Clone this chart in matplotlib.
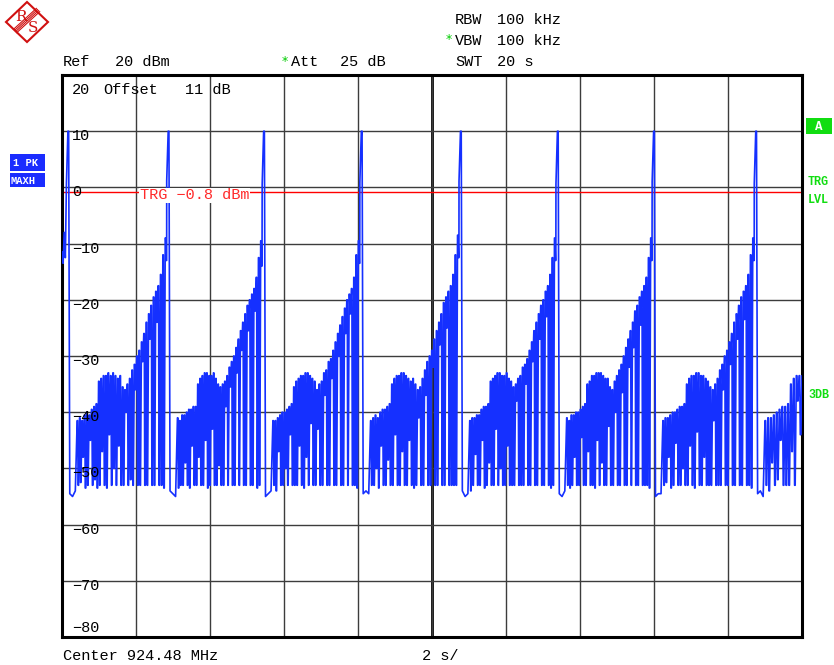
import numpy as np
import matplotlib.pyplot as plt
from matplotlib.patches import Rectangle, Polygon

plt.rcParams['font.family'] = ['Liberation Mono', 'DejaVu Sans Mono']

# =========================================================================
# TRACE DATA (zero span, 20 s sweep, levels in dBm)
# =========================================================================
lead_times = [0.0, 0.03, 0.06, 0.09]
lead_levels = [-11.5, -13.5, -8.0, -12.5]

peak_times = [0.16, 2.87, 5.45, 8.09, 10.77, 13.39, 15.99, 18.75]
peak_shoulder = [0.8, 1.2, 0.5, 0.9, 1.1, 0.6, 1.0, 0.7]
peak_level = 10.0
floor_levels = [[-54.5, -55.0, -54.0], [-54.0, -54.5, -55.0], [-55.0, -54.5, -54.0],
                [-54.5, -54.0, -54.5], [-54.0, -55.0, -54.5], [-54.5, -55.0, -54.0],
                [-55.0, -54.5, -54.5], [-54.5, -54.0, -55.0]]

cycle_tops = [
    [-41.5, -41.0, -41.5, -40.5, -40.0, -40.5, -39.5, -39.0, -38.5,
     -34.5, -34.0, -33.5, -33.5, -33.0, -33.5, -33.0, -33.5, -34.0, -33.5,
     -35.5, -36.0, -35.0, -34.0,
     -32.5, -31.5, -30.0, -29.0, -27.5, -26.0, -24.0, -22.5, -21.0, -19.5, -18.5, -17.5,
     -15.5, -12.0, -9.0],
    [-41.0, -41.5, -40.5, -40.5, -40.0, -39.5, -39.5, -39.0, -39.0,
     -35.0, -34.0, -33.5, -33.0, -33.0, -33.5, -33.5, -33.0, -34.0, -35.0,
     -35.5, -35.0, -34.5, -33.5,
     -32.0, -31.0, -30.0, -28.5, -27.0, -25.5, -24.0, -22.5, -21.0, -20.0, -19.0, -18.0,
     -16.0, -12.5, -9.5],
    [-41.5, -41.5, -41.0, -40.5, -40.0, -40.0, -39.5, -39.0, -38.5,
     -35.5, -34.5, -34.0, -33.5, -33.5, -33.0, -33.0, -33.5, -34.0, -34.5,
     -36.0, -35.0, -34.5, -33.0,
     -32.5, -31.0, -30.5, -29.0, -27.5, -26.0, -24.5, -23.0, -21.5, -20.0, -19.0, -18.0,
     -16.0, -12.0, -9.5],
    [-41.5, -41.0, -40.5, -41.0, -40.0, -39.5, -39.5, -39.0, -38.5,
     -35.0, -34.0, -33.5, -33.5, -33.0, -33.0, -33.5, -34.0, -34.5, -34.0,
     -35.0, -36.0, -35.5, -34.0,
     -32.5, -31.0, -30.0, -29.0, -27.0, -25.5, -24.0, -22.5, -20.5, -19.5, -18.5, -17.5,
     -15.5, -12.0, -8.5],
    [-41.5, -41.0, -41.0, -40.5, -40.5, -39.5, -39.0, -39.0, -38.5,
     -34.5, -34.0, -33.5, -33.0, -33.0, -33.5, -33.5, -33.0, -34.0, -34.5,
     -35.5, -35.0, -34.0, -33.5,
     -32.0, -31.5, -30.5, -29.0, -27.5, -25.5, -24.0, -22.5, -21.0, -20.0, -18.5, -17.5,
     -15.5, -12.5, -9.0],
    [-41.0, -41.5, -40.5, -40.5, -40.0, -40.0, -39.5, -39.0, -38.5,
     -35.0, -34.5, -33.5, -33.5, -33.0, -33.0, -33.0, -33.5, -34.0, -34.0,
     -35.5, -36.0, -34.5, -33.5,
     -32.5, -31.5, -30.0, -28.5, -27.0, -25.5, -24.0, -22.0, -21.0, -19.5, -18.5, -17.5,
     -16.0, -12.5, -9.0],
    [-41.5, -41.0, -41.0, -40.5, -40.0, -40.0, -39.5, -39.0, -39.0, -38.5,
     -35.0, -34.0, -33.5, -33.5, -33.0, -33.0, -33.5, -33.5, -34.0, -34.5,
     -35.5, -36.0, -35.0, -34.0,
     -32.5, -31.5, -30.0, -29.0, -27.5, -26.0, -24.0, -22.5, -21.0, -19.5, -18.5, -17.5,
     -15.5, -12.0, -9.0],
    # tail after the last burst (sweep ends at 20 s)
    [-41.5, -41.0, -41.0, -40.5, -40.0, -39.5, -39.0, -39.0, -38.5,
     -35.0, -34.0, -33.5, -33.5, -33.5],
]

cycle_bottoms = [
    [-53.0, -52.5, -48.0, -53.5, -53.0, -45.0, -53.0, -52.0, -53.5,
     -53.0, -47.0, -53.0, -53.5, -44.0, -53.0, -50.0, -53.0, -46.0, -53.0,
     -53.0, -40.0, -53.0, -52.0,
     -53.0, -36.0, -53.0, -53.0, -31.0, -53.0, -53.0, -27.0, -53.0, -53.0, -24.0, -53.0,
     -53.0, -53.5, -13.0],
    [-53.5, -53.0, -53.0, -49.0, -53.0, -53.5, -46.0, -53.0, -53.0,
     -48.0, -53.0, -53.0, -45.0, -53.5, -53.0, -43.0, -53.0, -53.0, -49.5,
     -53.0, -53.0, -39.0, -53.0,
     -35.5, -53.0, -53.0, -33.0, -53.0, -29.0, -53.0, -53.0, -25.5, -53.0, -53.0, -22.0,
     -53.5, -53.0, -14.0],
    [-53.0, -54.0, -47.0, -53.0, -53.0, -50.0, -53.0, -44.0, -53.0,
     -53.0, -53.0, -46.0, -53.0, -53.5, -48.0, -53.0, -42.0, -53.0, -53.0,
     -43.0, -53.0, -53.0, -37.0,
     -53.0, -53.0, -34.0, -53.0, -53.0, -30.0, -53.0, -53.0, -26.0, -53.0, -22.5, -53.0,
     -53.0, -53.5, -13.5],
    [-53.0, -53.0, -50.0, -53.5, -46.0, -53.0, -53.0, -48.5, -53.0,
     -53.0, -44.0, -53.0, -53.0, -47.0, -53.0, -53.0, -45.0, -53.0, -53.5,
     -53.0, -41.0, -53.0, -53.0,
     -37.0, -53.0, -53.0, -32.0, -53.0, -53.0, -28.0, -53.0, -53.0, -25.0, -53.0, -53.0,
     -53.0, -53.0, -12.5],
    [-54.0, -53.0, -47.5, -53.0, -53.0, -45.0, -53.5, -53.0, -49.0,
     -53.0, -53.0, -43.0, -53.0, -50.0, -53.0, -53.0, -46.0, -53.0, -53.0,
     -53.0, -38.0, -53.0, -53.0,
     -53.0, -35.0, -53.0, -53.0, -31.0, -53.0, -53.0, -27.0, -53.0, -53.0, -23.0, -53.0,
     -53.5, -53.0, -13.0],
    [-53.0, -53.5, -53.0, -48.0, -53.0, -53.0, -44.5, -53.0, -53.0,
     -47.0, -53.0, -53.0, -53.5, -45.0, -53.0, -49.0, -53.0, -53.0, -42.5,
     -53.0, -53.0, -40.0, -53.0,
     -53.0, -36.5, -53.0, -53.0, -32.0, -53.0, -28.5, -53.0, -53.0, -24.5, -53.0, -53.0,
     -53.0, -53.5, -13.0],
    [-53.0, -52.5, -48.0, -53.5, -53.0, -45.5, -53.0, -53.0, -50.0, -53.0,
     -53.0, -46.0, -53.0, -53.5, -43.5, -53.0, -53.0, -48.0, -53.0, -53.0,
     -53.0, -41.5, -53.0, -53.0,
     -53.0, -36.0, -53.0, -53.0, -31.5, -53.0, -53.0, -27.0, -53.0, -53.0, -23.5, -53.0,
     -53.0, -53.5, -13.0],
    [-53.0, -54.0, -49.0, -53.0, -52.0, -45.0, -53.0, -53.0, -53.0,
     -47.0, -53.0, -38.0, -44.0, -33.5],
]

trigger_level = -0.8
sweep_time = 20.0
y_ticks = [10, 0, -10, -20, -30, -40, -50, -60, -70, -80]

# =========================================================================
# BUILD THE TRACE (each tooth: short flat top, drop, short flat bottom)
# =========================================================================
t_trace = list(lead_times)
p_trace = list(lead_levels)
for k, tp in enumerate(peak_times):
    t_trace += [tp - 0.04, tp, tp + 0.02]
    p_trace += [peak_shoulder[k], peak_level, peak_level]
    fl = floor_levels[k]
    t_trace += list(np.linspace(tp + 0.05, tp + 0.2, len(fl)))
    p_trace += fl
    tops, bots = cycle_tops[k], cycle_bottoms[k]
    t_end = peak_times[k + 1] - 0.08 if k + 1 < len(peak_times) else sweep_time
    tt = np.linspace(tp + 0.25, t_end, len(tops))
    dt = tt[1] - tt[0]
    for ti, a, b in zip(tt, tops, bots):
        t_trace += [ti, ti + 0.2 * dt, ti + 0.4 * dt, ti + 0.6 * dt]
        p_trace += [a, a, b, b]

# =========================================================================
# FIGURE
# =========================================================================
W, H = 834, 665
fig = plt.figure(figsize=(W / 100, H / 100), dpi=100)
fig.patch.set_facecolor('white')

ax = fig.add_axes([62 / W, 1 - 637 / H, (802 - 62) / W, (637 - 75) / H])
ax.set_xlim(0, sweep_time)
ax.set_ylim(-80, 20)
ax.set_xticks(np.arange(0, 21, 2))
ax.set_yticks(np.arange(-80, 21, 10))
ax.tick_params(length=0, labelleft=False, labelbottom=False)
ax.grid(True, color='#3c3c3c', linewidth=1.0)
ax.axvline(10, color='black', linewidth=2.0, zorder=1)
for s in ax.spines.values():
    s.set_linewidth(2.2)

ax.plot(t_trace, p_trace, color='#1530ff', linewidth=1.2, zorder=3)
ax.axhline(trigger_level, color='#ff0000', linewidth=1.0, zorder=2)
ax.text(2.1, trigger_level - 0.6, 'TRG \u22120.8 dBm', color='#ff2a2a', fontsize=11,
        va='center', ha='left', zorder=4,
        bbox=dict(facecolor='white', edgecolor='none', pad=0.5))

for v in y_ticks:
    lbl = str(v).replace('-', '\u2212')
    if v == -80:
        ax.text(0.27, v + 1.6, lbl, fontsize=11, va='center', ha='left', zorder=4)
    else:
        ax.text(0.27, v - 0.9, lbl, fontsize=11, va='center', ha='left', zorder=4)

# overlay in pixel coordinates for annotations
ov = fig.add_axes([0, 0, 1, 1], zorder=5)
ov.set_xlim(0, W)
ov.set_ylim(H, 0)
ov.axis('off')
ov.patch.set_alpha(0)

fs = 11
ov.text(63, 62, 'Ref', fontsize=fs, va='center')
ov.text(115, 62, '20 dBm', fontsize=fs, va='center')
ov.text(285, 61, '*', fontsize=9, va='center', ha='center', color='#00cc00', family='DejaVu Sans')
ov.text(291, 62, 'Att', fontsize=fs, va='center')
ov.text(340, 62, '25 dB', fontsize=fs, va='center')
ov.text(455, 20, 'RBW', fontsize=fs, va='center')
ov.text(497, 20, '100 kHz', fontsize=fs, va='center')
ov.text(449, 40, '*', fontsize=9, va='center', ha='center', color='#00cc00', family='DejaVu Sans')
ov.text(455, 41, 'VBW', fontsize=fs, va='center')
ov.text(497, 41, '100 kHz', fontsize=fs, va='center')
ov.text(455, 62, 'SWT', fontsize=fs, va='center')
ov.text(497, 62, '20 s', fontsize=fs, va='center')

ov.text(72, 90, '20', fontsize=fs, va='center')
ov.text(103, 90, 'Offset', fontsize=fs, va='center')
ov.text(185, 90, '11 dB', fontsize=fs, va='center')

ov.text(63, 656, 'Center 924.48 MHz', fontsize=fs, va='center')
ov.text(422, 656, '2 s/', fontsize=fs, va='center')

# trace info boxes on the left
ov.add_patch(Rectangle((10, 154), 35, 17, facecolor='#1a2cff', edgecolor='none'))
ov.add_patch(Rectangle((10, 173), 35, 14, facecolor='#1a2cff', edgecolor='none'))
ov.text(13, 163, '1 PK', fontsize=7.5, color='white', va='center', fontweight='bold')
ov.text(11, 181, 'MAXH', fontsize=7.5, color='white', va='center', fontweight='bold')

# right side markers
green = '#11dd11'
ov.add_patch(Rectangle((806, 118), 26, 16, facecolor=green, edgecolor='none'))
ov.text(819, 127, 'A', fontsize=9, color='white', va='center', ha='center', fontweight='bold')
ov.text(808, 182, 'TRG', fontsize=8.5, color=green, va='center', fontweight='bold')
ov.text(808, 200, 'LVL', fontsize=8.5, color=green, va='center', fontweight='bold')
ov.text(808, 395, '3DB', fontsize=8.5, color=green, va='center', fontweight='bold')

# R&S logo
red = '#d01010'
ov.add_patch(Polygon([(27, 2), (48, 22), (27, 42), (6, 22)], closed=True,
                     facecolor='none', edgecolor=red, linewidth=1.5))
for off in (-1.6, -0.5, 0.6, 1.7):
    ov.plot([15 + off, 38 + off], [31 + off, 10 + off], color=red, linewidth=0.8)
ov.text(20.5, 17, 'R', fontsize=11, color=red, va='center', ha='center', family='DejaVu Serif')
ov.text(33, 28.5, 'S', fontsize=11, color=red, va='center', ha='center', family='DejaVu Serif')

fig.savefig('out.png', dpi=100, facecolor='white')
